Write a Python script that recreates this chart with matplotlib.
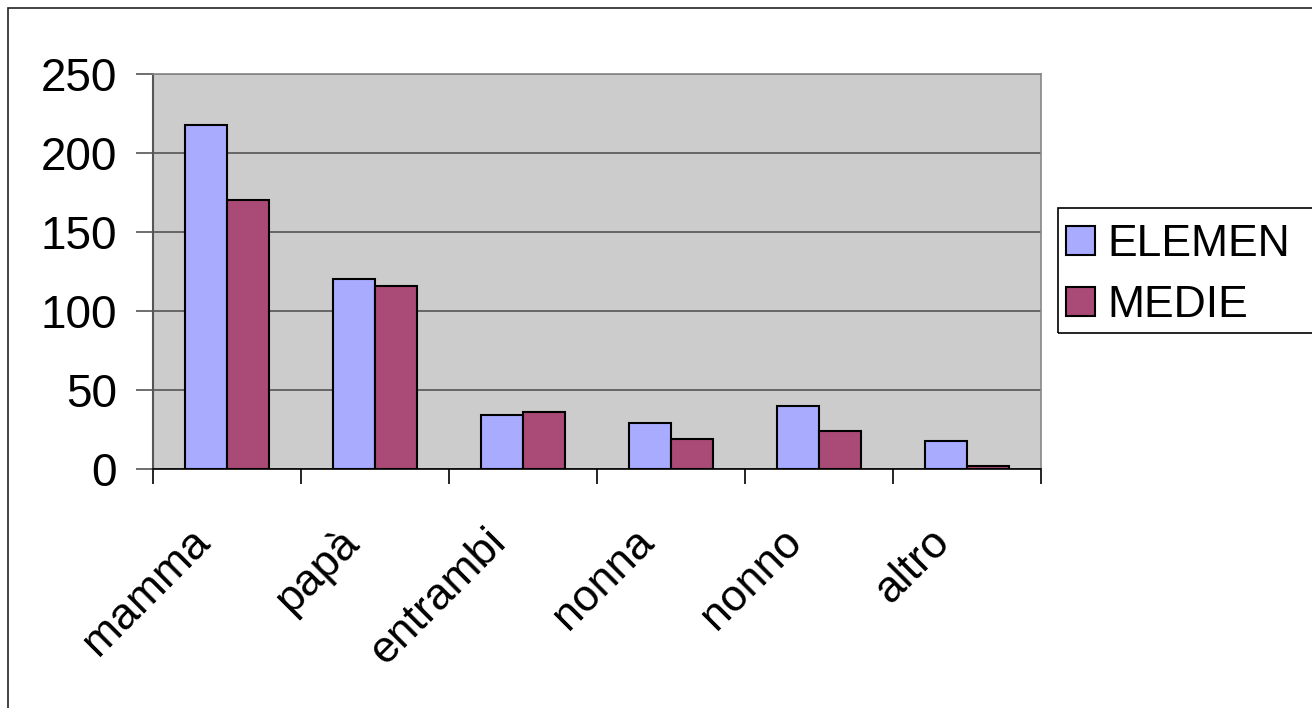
import matplotlib
matplotlib.use("Agg")
import matplotlib.pyplot as plt
import matplotlib.transforms as mtransforms
import numpy as np
from matplotlib.patches import Rectangle

categories = ["mamma", "papà", "entrambi", "nonna", "nonno", "altro"]
elemen = [218, 120, 34, 29, 40, 18]
medie = [170, 116, 36, 19, 24, 2]
series_names = ["ELEMEN", "MEDIE"]
yticks = [0, 50, 100, 150, 200, 250]

plt.rcParams['font.family'] = ['Liberation Sans', 'DejaVu Sans']

W, H = 1312, 708
fig = plt.figure(figsize=(W/100, H/100), dpi=100)
fig.patch.set_facecolor('white')

# outer frame
fig.add_artist(Rectangle((8/W, -0.5), 2, 1.5 - 8/H, transform=fig.transFigure,
                         fill=False, edgecolor='#222222', linewidth=1.2))
# legend frame (extends beyond right edge)
fig.add_artist(Rectangle((1058/W, 1 - 333/H), 0.5, 125/H, transform=fig.transFigure,
                         fill=False, edgecolor='black', linewidth=1.2))

ax = fig.add_axes([153/W, 1 - 469/H, 888/W, 395/H])
ax.set_facecolor('#cccccc')

x = np.arange(len(categories))
bw = 0.284
ax.bar(x - bw/2, elemen, width=bw, color='#a9abff', edgecolor='black', linewidth=1.5, label=series_names[0], zorder=3)
ax.bar(x + bw/2, medie, width=bw, color='#aa4a76', edgecolor='black', linewidth=1.5, label=series_names[1], zorder=3)

ax.set_xlim(-0.5, len(categories) - 0.5)
ax.set_ylim(0, 250)
ax.set_yticks(yticks)
ax.set_yticklabels([str(v) for v in yticks], fontsize=33)
ax.yaxis.grid(True, color='#555555', linewidth=1.2, zorder=1)
ax.set_axisbelow(True)

ax.set_xticks(np.arange(len(categories) + 1) - 0.5)
ax.set_xticklabels([])
offset = mtransforms.ScaledTranslation(-38/100, -52/100, fig.dpi_scale_trans)
for xi, cat in zip(x, categories):
    ax.text(xi, 0, cat, transform=ax.get_xaxis_transform() + offset, fontsize=32,
            rotation=45, ha='right', va='top', rotation_mode='anchor', clip_on=False)
ax.tick_params(axis='x', which='major', length=11, width=1.2, color='black', direction='out')
ax.tick_params(axis='y', length=12, width=1.2, color='#555555', direction='out', pad=14)

for s in ['top', 'right']:
    ax.spines[s].set_color('#888888')
    ax.spines[s].set_linewidth(1.2)
ax.spines['left'].set_color('#555555')
ax.spines['left'].set_linewidth(1.5)
ax.spines['bottom'].set_color('black')
ax.spines['bottom'].set_linewidth(1.2)

leg = fig.legend(loc='upper left', bbox_to_anchor=(1066/W, 1 - 224/H), fontsize=32,
                 frameon=False, handlelength=0.65, handleheight=0.65, handletextpad=0.28,
                 borderpad=0, labelspacing=0.45, borderaxespad=0)

fig.savefig('out.png', dpi=100)
